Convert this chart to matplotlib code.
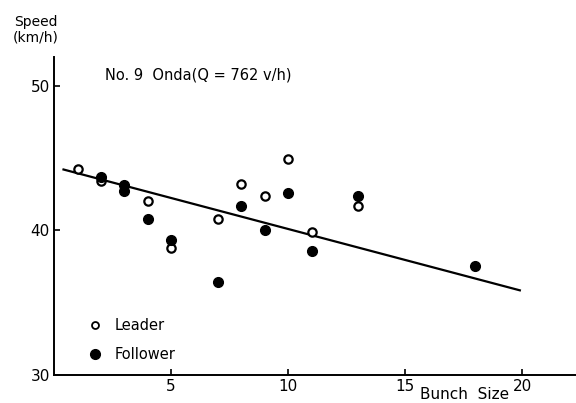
import matplotlib
matplotlib.use("Agg")
import matplotlib.pyplot as plt

# Bunch size vs speed, No.9 Onda
leader_x = [1, 2, 4, 5, 7, 8, 9, 10, 11, 13]
leader_y = [44.2, 43.4, 42.0, 38.8, 40.8, 43.2, 42.4, 44.9, 39.9, 41.7]

follower_x = [2, 3, 3, 4, 5, 7, 8, 9, 10, 11, 13, 18]
follower_y = [43.7, 43.1, 42.7, 40.8, 39.3, 36.4, 41.7, 40.0, 42.6, 38.6, 42.4, 37.5]

# regression line endpoints
line_x = [0.4, 19.9]
line_y = [44.2, 35.85]

x_ticks = [5, 10, 15, 20]
y_ticks = [30, 40, 50]

plt.rcParams["font.family"] = "DejaVu Sans"

fig = plt.figure(figsize=(5.76, 4.03), dpi=100)
ax = fig.add_axes([0.094, 0.0695, 0.906, 0.79])

ax.plot(line_x, line_y, color="black", lw=1.6, zorder=2)
ax.plot(leader_x, leader_y, "o", ms=6, mfc="white", mec="black", mew=1.6,
        ls="none", zorder=3)
ax.plot(follower_x, follower_y, "o", ms=7, mfc="black", mec="black",
        ls="none", zorder=4)

ax.set_xlim(0, 22.3)
ax.set_ylim(30, 52)
ax.set_xticks(x_ticks)
ax.set_yticks(y_ticks)
ax.tick_params(direction="in", length=4, width=1.2, labelsize=11, pad=3)
for s in ["top", "right"]:
    ax.spines[s].set_visible(False)
for s in ["left", "bottom"]:
    ax.spines[s].set_linewidth(1.4)

ax.text(0.098, 0.943, "No. 9  Onda(Q = 762 v/h)", transform=ax.transAxes,
        fontsize=10.5, va="center")
fig.text(0.062, 0.926, "Speed\n(km/h)", fontsize=10, ha="center", va="center",
         linespacing=1.1)
fig.text(0.806, 0.003, "Bunch  Size", fontsize=11, ha="center", va="bottom")

# legend
ax.plot([1.75], [33.45], "o", ms=5, mfc="white", mec="black", mew=1.3)
ax.plot([1.75], [31.45], "o", ms=7, mfc="black", mec="black")
ax.text(2.6, 33.45, "Leader", fontsize=10.5, va="center")
ax.text(2.6, 31.45, "Follower", fontsize=10.5, va="center")

fig.savefig("out.png", dpi=100)
